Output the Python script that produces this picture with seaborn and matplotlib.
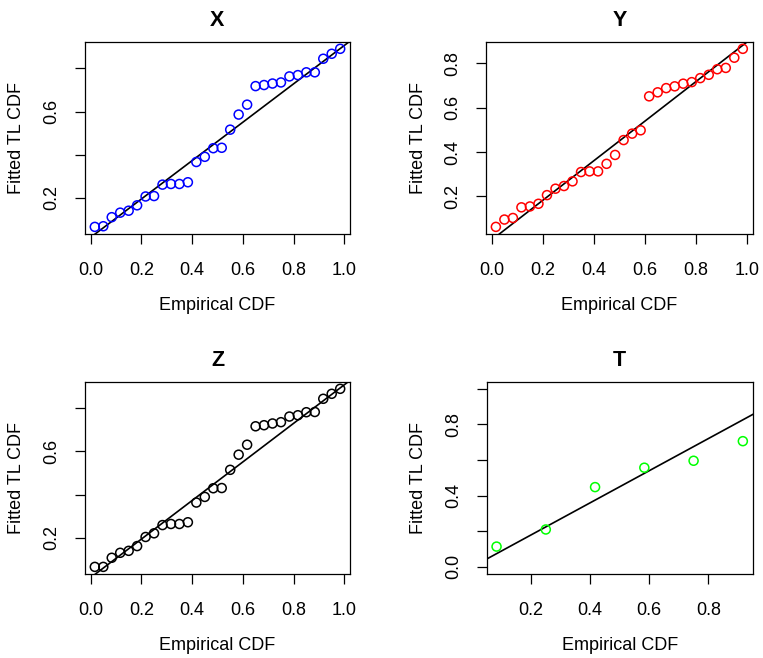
import numpy as np
import pandas as pd
import matplotlib
matplotlib.use("Agg")
import matplotlib.pyplot as plt
import seaborn as sns

# ---------------- data ----------------
ecdf30 = [(i - 0.5) / 30 for i in range(1, 31)]
ecdf6 = [(i - 0.5) / 6 for i in range(1, 7)]

fit_x = [0.065, 0.068, 0.110, 0.131, 0.140, 0.165, 0.206, 0.208, 0.261, 0.264,
         0.264, 0.272, 0.366, 0.390, 0.430, 0.432, 0.516, 0.586, 0.632, 0.718,
         0.723, 0.730, 0.735, 0.763, 0.769, 0.782, 0.782, 0.845, 0.868, 0.891]
fit_y = [0.063, 0.096, 0.103, 0.151, 0.155, 0.167, 0.206, 0.235, 0.247, 0.268,
         0.310, 0.313, 0.313, 0.347, 0.387, 0.454, 0.483, 0.498, 0.651, 0.669,
         0.688, 0.696, 0.708, 0.715, 0.733, 0.748, 0.773, 0.779, 0.825, 0.865]
fit_z = [0.066, 0.066, 0.108, 0.131, 0.140, 0.162, 0.204, 0.221, 0.259, 0.264,
         0.264, 0.272, 0.363, 0.389, 0.429, 0.430, 0.514, 0.584, 0.630, 0.715,
         0.720, 0.728, 0.734, 0.760, 0.766, 0.780, 0.781, 0.842, 0.865, 0.888]
fit_t = [0.114, 0.210, 0.448, 0.557, 0.596, 0.706]

# fitted reference lines (intercept, slope)
line_x = (0.016, 0.891)
line_y = (0.004, 0.892)
line_z = (0.016, 0.891)
line_t = (-0.001, 0.902)

titles = ["X", "Y", "Z", "T"]
colors = ["#0000FF", "#FF0000", "#000000", "#00FF00"]

xticks_a = [0.0, 0.2, 0.4, 0.6, 0.8, 1.0]
xlabels_a = ["0.0", "0.2", "0.4", "0.6", "0.8", "1.0"]
yticks_x = [0.2, 0.4, 0.6, 0.8]
ylabels_x = ["0.2", "", "0.6", ""]
yticks_y = [0.2, 0.4, 0.6, 0.8]
ylabels_y = ["0.2", "0.4", "0.6", "0.8"]
xticks_t = [0.2, 0.4, 0.6, 0.8]
xlabels_t = ["0.2", "0.4", "0.6", "0.8"]
yticks_t = [0.0, 0.2, 0.4, 0.6, 0.8, 1.0]
ylabels_t = ["0.0", "", "0.4", "", "0.8", ""]

xlab = "Empirical CDF"
ylab = "Fitted TL CDF"

# ---------------- style ----------------
sns.set_style("white")
plt.rcParams["font.family"] = ["Liberation Sans", "DejaVu Sans"]
plt.rcParams["text.color"] = "black"
plt.rcParams["axes.labelcolor"] = "black"
plt.rcParams["xtick.color"] = "black"
plt.rcParams["ytick.color"] = "black"

FS = 13

W, H = 763, 658
fig = plt.figure(figsize=(W / 100, H / 100), dpi=100)

# axes boxes in pixels: left, top, right, bottom
boxes = [(85, 41.7, 350, 234), (486, 41.7, 752.7, 234),
         (85, 381.7, 350, 574), (486.7, 381.7, 752.7, 574)]

panels = [
    (ecdf30, fit_x, line_x, xticks_a, xlabels_a, yticks_x, ylabels_x, None),
    (ecdf30, fit_y, line_y, xticks_a, xlabels_a, yticks_y, ylabels_y, None),
    (ecdf30, fit_z, line_z, xticks_a, xlabels_a, yticks_x, ylabels_x, None),
    (ecdf6, fit_t, line_t, xticks_t, xlabels_t, yticks_t, ylabels_t, (0.0, 1.0)),
]


def rlim(lo, hi):
    d = (hi - lo) * 0.04
    return lo - d, hi + d


for k, (box, pan) in enumerate(zip(boxes, panels)):
    l, t, r, b = box
    ax = fig.add_axes([l / W, 1 - b / H, (r - l) / W, (b - t) / H])
    xs, ys, (a, m), xt, xl, yt, yl, ylim = pan
    df = pd.DataFrame({"x": xs, "y": ys})
    sns.scatterplot(data=df, x="x", y="y", ax=ax, marker="o", s=42,
                    facecolor="none", edgecolor=colors[k], linewidth=1.1,
                    zorder=3)
    x0, x1 = rlim(min(xs), max(xs))
    if ylim is None:
        y0, y1 = rlim(min(ys), max(ys))
    else:
        y0, y1 = rlim(*ylim)
    lx = np.array([x0 - 0.1, x1 + 0.1])
    sns.lineplot(x=lx, y=a + m * lx, ax=ax, color="black", linewidth=1.2,
                 zorder=2)
    ax.set_xlim(x0, x1)
    ax.set_ylim(y0, y1)
    ax.set_xticks(xt)
    ax.set_xticklabels(xl)
    ax.set_yticks(yt)
    ax.set_yticklabels(yl, rotation=90, va="center")
    ax.tick_params(axis="both", direction="out", length=7.5, width=0.9,
                   labelsize=FS, colors="black", labelcolor="black",
                   bottom=True, left=True)
    ax.tick_params(axis="x", pad=13)
    ax.tick_params(axis="y", pad=10)
    for s in ax.spines.values():
        s.set_visible(True)
        s.set_color("black")
        s.set_linewidth(0.9)
    ax.set_title(titles[k], fontsize=15.5, fontweight="bold", pad=11,
                 color="black")
    ax.set_xlabel(xlab, fontsize=FS, color="black")
    ax.set_ylabel(ylab, fontsize=FS, color="black")
    ax.xaxis.set_label_coords(0.5, -71 / (b - t))
    ax.xaxis.label.set_va("center")
    ax.yaxis.set_label_coords(-68 / (r - l), 0.5)
    ax.yaxis.label.set_va("center")

fig.savefig("out.png", dpi=100)
